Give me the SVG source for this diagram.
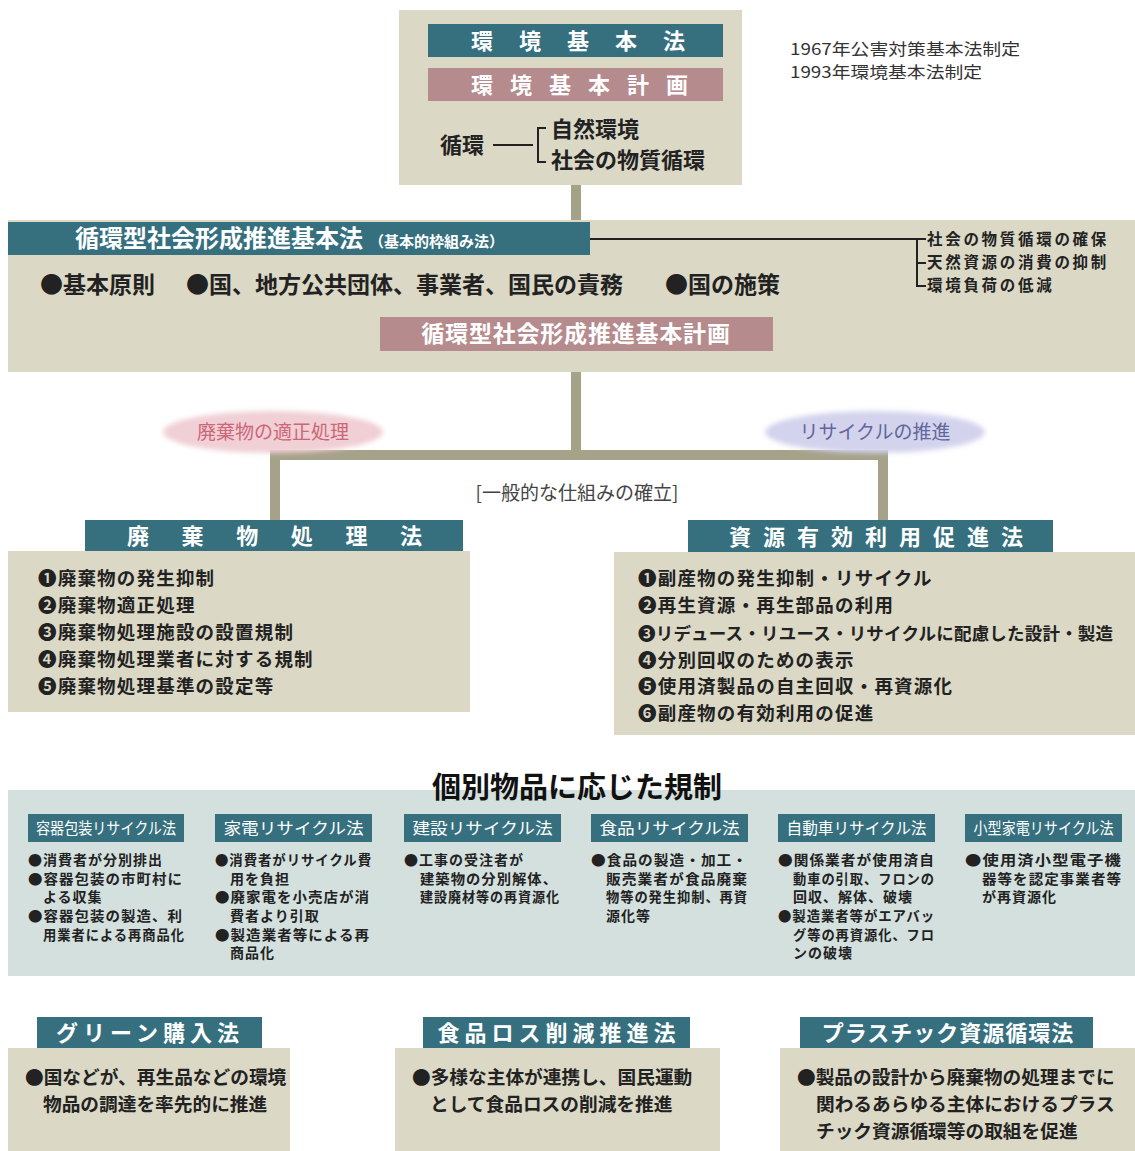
<svg xmlns="http://www.w3.org/2000/svg" width="1135" height="1151" viewBox="0 0 1135 1151">
<style>
text{font-family:"Noto Sans CJK JP","Noto Sans",sans-serif;}
.beige{fill:#dbd8c5;}
.teal{fill:#36707f;}
.pink{fill:#b68b8d;}
.conn{fill:#a6a28a;}
.wt{fill:#fff;font-weight:bold;}
.dk{fill:#222;font-weight:bold;}
.item{fill:#222;font-weight:bold;font-size:18.5px;letter-spacing:1.2px;}
.sm{fill:#222;font-weight:bold;font-size:14px;letter-spacing:1px;}
.bt{fill:#222;font-weight:bold;font-size:18.7px;}
.lbl{fill:#fff;font-size:16px;}
.br{fill:#222;font-weight:bold;font-size:15.5px;letter-spacing:2.7px;}
.ln{stroke:#222;stroke-width:2;fill:none;}
</style>
<defs>
<filter id="soft" x="-20%" y="-40%" width="140%" height="180%"><feGaussianBlur stdDeviation="2.5"/></filter>
</defs>
<rect width="1135" height="1151" fill="#fff"/>

<g id="connectors">
<rect class="conn" x="571" y="185" width="10" height="36"/>
<rect class="conn" x="571" y="372" width="10" height="84"/>
<rect class="conn" x="270" y="450" width="618" height="10"/>
<rect class="conn" x="270" y="450" width="10" height="71"/>
<rect class="conn" x="878" y="450" width="10" height="71"/>
</g>

<g id="env-basic-law">
<rect class="beige" x="399" y="10" width="343" height="175"/>
<rect class="teal" x="428" y="24" width="295" height="33"/>
<text class="wt" font-size="22" text-anchor="middle" x="482 530 578 626 674" y="49">環境基本法</text>
<rect class="pink" x="428" y="68" width="295" height="33"/>
<text class="wt" font-size="22" text-anchor="middle" x="482 521 560 599 638 677" y="93">環境基本計画</text>
<text class="dk" font-size="22" x="440" y="153">循環</text>
<line class="ln" x1="493" y1="145" x2="533" y2="145"/>
<path class="ln" d="M546,128 H538 V162 H546"/>
<text class="dk" font-size="22" x="551" y="137">自然環境</text>
<text class="dk" font-size="22" x="551" y="168">社会の物質循環</text>
</g>

<g id="history-note">
<text x="790" y="55" font-size="16" fill="#333" textLength="230" lengthAdjust="spacingAndGlyphs">1967年公害対策基本法制定</text>
<text x="790" y="78" font-size="16" fill="#333" textLength="192" lengthAdjust="spacingAndGlyphs">1993年環境基本法制定</text>
</g>

<g id="junkan-law">
<rect class="beige" x="8" y="220" width="1127" height="152"/>
<rect class="teal" x="8" y="222" width="582" height="33"/>
<text class="wt" x="75" y="247" font-size="24" font-weight="normal">循環型社会形成推進基本法<tspan font-size="15" dx="6">（基本的枠組み法）</tspan></text>
<line class="ln" x1="590" y1="239" x2="926" y2="239"/>
<path class="ln" d="M917,239 V286 H926 M917,263 H926"/>
<text class="br" x="927" y="245">社会の物質循環の確保</text>
<text class="br" x="927" y="268">天然資源の消費の抑制</text>
<text class="br" x="927" y="291">環境負荷の低減</text>
<text class="dk" font-size="23" x="40" y="293">●基本原則</text>
<text class="dk" font-size="23" x="186" y="293">●国、地方公共団体、事業者、国民の責務</text>
<text class="dk" font-size="23" x="665" y="293">●国の施策</text>
<rect class="pink" x="380" y="317" width="393" height="34"/>
<text class="wt" font-size="23" font-weight="normal" x="576" y="342" text-anchor="middle" letter-spacing="0.8">循環型社会形成推進基本計画</text>
</g>

<g id="label-waste">
<ellipse cx="273" cy="432" rx="110" ry="21" fill="#f0cfd5" filter="url(#soft)"/>
<text x="273" y="439" font-size="19" fill="#cc6678" text-anchor="middle">廃棄物の適正処理</text>
</g>
<g id="label-recycle">
<ellipse cx="875" cy="432" rx="110" ry="21" fill="#d3d3ee" filter="url(#soft)"/>
<text x="875" y="439" font-size="19" fill="#62669a" text-anchor="middle">リサイクルの推進</text>
</g>
<g id="label-general">
<text x="577" y="500" font-size="19" fill="#444" text-anchor="middle">[一般的な仕組みの確立]</text>
</g>

<g id="waste-law">
<rect class="teal" x="85" y="520" width="378" height="31"/>
<text class="wt" font-size="22" font-weight="normal" text-anchor="middle" x="138 192.6 247.2 301.8 356.4 411" y="544">廃棄物処理法</text>
<rect class="beige" x="8" y="551" width="462" height="161"/>
<text class="item" x="38" y="585">❶廃棄物の発生抑制</text>
<text class="item" x="38" y="612">❷廃棄物適正処理</text>
<text class="item" x="38" y="639">❸廃棄物処理施設の設置規制</text>
<text class="item" x="38" y="666">❹廃棄物処理業者に対する規制</text>
<text class="item" x="38" y="693">❺廃棄物処理基準の設定等</text>
</g>

<g id="resource-law">
<rect class="teal" x="688" y="520" width="365" height="32"/>
<text class="wt" font-size="22" font-weight="normal" text-anchor="middle" x="740 774 808 842 876 910 944 978 1012" y="545">資源有効利用促進法</text>
<rect class="beige" x="614" y="552" width="521" height="183"/>
<text class="item" x="638" y="585">❶副産物の発生抑制・リサイクル</text>
<text class="item" x="638" y="612">❷再生資源・再生部品の利用</text>
<text class="item" x="638" y="640" style="font-size:17.5px;letter-spacing:0.2px">❸リデュース・リユース・リサイクルに配慮した設計・製造</text>
<text class="item" x="638" y="667">❹分別回収のための表示</text>
<text class="item" x="638" y="693">❺使用済製品の自主回収・再資源化</text>
<text class="item" x="638" y="720">❻副産物の有効利用の促進</text>
</g>

<g id="individual-band">
<rect x="8" y="790" width="1127" height="186" fill="#d4e0de"/>
<text x="577" y="798" font-size="29" font-weight="bold" fill="#111" text-anchor="middle">個別物品に応じた規制</text>
</g>

<g id="container-law">
<rect class="teal" x="28" y="814" width="156" height="28"/>
<text class="lbl" x="106" y="834" text-anchor="middle" textLength="140" lengthAdjust="spacingAndGlyphs">容器包装リサイクル法</text>
<text class="sm" x="28" y="865">●消費者が分別排出</text>
<text class="sm" x="28" y="884" textLength="155" lengthAdjust="spacingAndGlyphs">●容器包装の市町村に</text>
<text class="sm" x="43" y="902">よる収集</text>
<text class="sm" x="28" y="921" textLength="155" lengthAdjust="spacingAndGlyphs">●容器包装の製造、利</text>
<text class="sm" x="43" y="940" textLength="142" lengthAdjust="spacingAndGlyphs">用業者による再商品化</text>
</g>

<g id="appliance-law">
<rect class="teal" x="215" y="814" width="157" height="28"/>
<text class="lbl" x="293.5" y="834" text-anchor="middle" textLength="140" lengthAdjust="spacingAndGlyphs">家電リサイクル法</text>
<text class="sm" x="215" y="865" textLength="157" lengthAdjust="spacingAndGlyphs">●消費者がリサイクル費</text>
<text class="sm" x="230" y="884">用を負担</text>
<text class="sm" x="215" y="902" textLength="155" lengthAdjust="spacingAndGlyphs">●廃家電を小売店が消</text>
<text class="sm" x="230" y="921">費者より引取</text>
<text class="sm" x="215" y="940" textLength="155" lengthAdjust="spacingAndGlyphs">●製造業者等による再</text>
<text class="sm" x="230" y="958">商品化</text>
</g>

<g id="construction-law">
<rect class="teal" x="404" y="814" width="157" height="28"/>
<text class="lbl" x="482.5" y="834" text-anchor="middle" textLength="140" lengthAdjust="spacingAndGlyphs">建設リサイクル法</text>
<text class="sm" x="404" y="865">●工事の受注者が</text>
<text class="sm" x="420" y="884" textLength="138" lengthAdjust="spacingAndGlyphs">建築物の分別解体、</text>
<text class="sm" x="420" y="902" textLength="140" lengthAdjust="spacingAndGlyphs">建設廃材等の再資源化</text>
</g>

<g id="food-law">
<rect class="teal" x="591" y="814" width="157" height="28"/>
<text class="lbl" x="669.5" y="834" text-anchor="middle" textLength="140" lengthAdjust="spacingAndGlyphs">食品リサイクル法</text>
<text class="sm" x="591" y="865" textLength="157" lengthAdjust="spacingAndGlyphs">●食品の製造・加工・</text>
<text class="sm" x="606" y="884" textLength="142" lengthAdjust="spacingAndGlyphs">販売業者が食品廃棄</text>
<text class="sm" x="606" y="902" textLength="142" lengthAdjust="spacingAndGlyphs">物等の発生抑制、再資</text>
<text class="sm" x="606" y="921">源化等</text>
</g>

<g id="auto-law">
<rect class="teal" x="778" y="814" width="157" height="28"/>
<text class="lbl" x="856.5" y="834" text-anchor="middle" textLength="140" lengthAdjust="spacingAndGlyphs">自動車リサイクル法</text>
<text class="sm" x="778" y="865" textLength="157" lengthAdjust="spacingAndGlyphs">●関係業者が使用済自</text>
<text class="sm" x="793" y="884" textLength="142" lengthAdjust="spacingAndGlyphs">動車の引取、フロンの</text>
<text class="sm" x="793" y="902">回収、解体、破壊</text>
<text class="sm" x="778" y="921" textLength="157" lengthAdjust="spacingAndGlyphs">●製造業者等がエアバッ</text>
<text class="sm" x="793" y="940" textLength="142" lengthAdjust="spacingAndGlyphs">グ等の再資源化、フロ</text>
<text class="sm" x="793" y="958">ンの破壊</text>
</g>

<g id="small-appliance-law">
<rect class="teal" x="965" y="814" width="157" height="28"/>
<text class="lbl" x="1043.5" y="834" text-anchor="middle" textLength="140" lengthAdjust="spacingAndGlyphs">小型家電リサイクル法</text>
<text class="sm" x="965" y="865" textLength="157" lengthAdjust="spacingAndGlyphs">●使用済小型電子機</text>
<text class="sm" x="982" y="884" textLength="140" lengthAdjust="spacingAndGlyphs">器等を認定事業者等</text>
<text class="sm" x="982" y="902">が再資源化</text>
</g>

<g id="green-law">
<rect class="teal" x="37" y="1017" width="225" height="31"/>
<text class="wt" font-size="22" x="150" y="1041" text-anchor="middle" letter-spacing="5">グリーン購入法</text>
<rect class="beige" x="8" y="1048" width="282" height="103"/>
<text class="bt" x="25" y="1084">●国などが、再生品などの環境</text>
<text class="bt" x="43" y="1111">物品の調達を率先的に推進</text>
</g>

<g id="foodloss-law">
<rect class="teal" x="423" y="1017" width="267" height="31"/>
<text class="wt" font-size="22" x="559" y="1041" text-anchor="middle" letter-spacing="5">食品ロス削減推進法</text>
<rect class="beige" x="395" y="1048" width="325" height="103"/>
<text class="bt" x="412" y="1084">●多様な主体が連携し、国民運動</text>
<text class="bt" x="430" y="1111">として食品ロスの削減を推進</text>
</g>

<g id="plastic-law">
<rect class="teal" x="800" y="1017" width="293" height="31"/>
<text class="wt" font-size="22" x="948" y="1041" text-anchor="middle" letter-spacing="1">プラスチック資源循環法</text>
<rect class="beige" x="780" y="1048" width="355" height="103"/>
<text class="bt" x="797" y="1084">●製品の設計から廃棄物の処理までに</text>
<text class="bt" x="816" y="1111">関わるあらゆる主体におけるプラス</text>
<text class="bt" x="816" y="1138">チック資源循環等の取組を促進</text>
</g>
</svg>
